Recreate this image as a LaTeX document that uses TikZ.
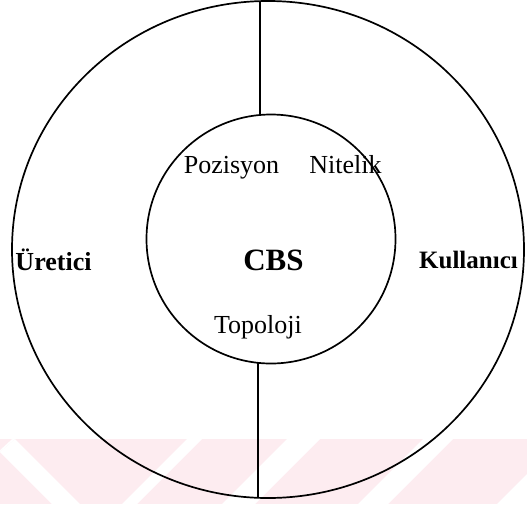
\documentclass[tikz,border=0pt]{standalone}
\usepackage{fontspec}
\setmainfont{Liberation Serif}
\usetikzlibrary{shapes.geometric}
\definecolor{markpink}{RGB}{253,236,240}
\tikzset{
  ring/.style={draw, line width=1.7pt, inner sep=0pt, outer sep=0pt},
  divider/.style={line width=1.7pt},
  part/.style={anchor=base, inner sep=0pt, font=\fontsize{26}{28}\selectfont},
  partbold/.style={part, font=\fontsize{26}{28}\selectfont\bfseries},
}
\begin{document}
\begin{tikzpicture}[x=1pt, y=-1pt]
  \useasboundingbox (0,0) rectangle (527,504);

  % faint pink band with white diagonal gaps along the bottom
  \fill[markpink] (0,439) rectangle (527,504);
  \fill[white] (0,452) -- (15,439) -- (80,504) -- (52,504) -- cycle;
  \fill[white] (0,439) -- (15,439) -- (0,452) -- cycle;
  \fill[markpink] (0,439) -- (12,439) -- (0,450) -- cycle;
  \fill[white] (187,439) -- (202,439) -- (137,504) -- (122,504) -- cycle;
  \fill[white] (287,439) -- (320,439) -- (255,504) -- (222,504) -- cycle;
  \fill[white] (423,439) -- (453,439) -- (388,504) -- (358,504) -- cycle;
  \fill[white] (562,439) -- (592,439) -- (527,504) -- (497,504) -- cycle;

  % the two rings
  \node[ring, ellipse, minimum width=512pt, minimum height=497pt] (outer) at (268,249.5) {};
  \node[ring, circle, minimum size=249pt] (inner) at (271,239) {};

  % dividers between the producer and user halves
  \draw[divider] (inner.95) -- (inner.95 |- outer.north);
  \draw[divider] (inner.264) -- (inner.264 |- outer.south);

  % labels
  \node[part] (poz) at (231.5,173) {Pozisyon};
  \node[part] (nit) at (345.5,173) {Nitelik};
  \node[part] (top) at (258,333) {Topoloji};
  \node[partbold, font=\fontsize{31}{33}\selectfont\bfseries] (cbs) at (273.5,270) {CBS};
  \node[partbold] (ure) at (53.5,270) {Üretici};
  \node[partbold, font=\fontsize{25}{27}\selectfont\bfseries] (kul) at (468.5,268) {Kullanıcı};
\end{tikzpicture}
\end{document}
